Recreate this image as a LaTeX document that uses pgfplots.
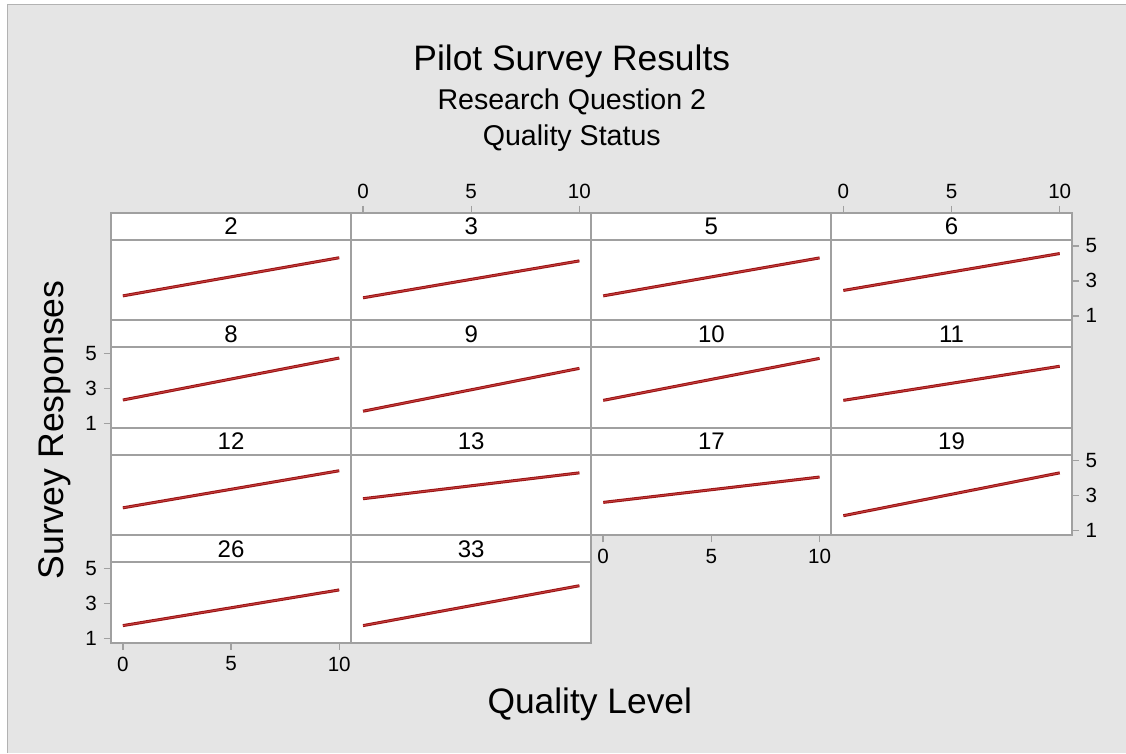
\documentclass[border=0pt]{standalone}
\usepackage{pgfplots}
\pgfplotsset{compat=1.18}
\usepackage{fontspec}
\setmainfont{Liberation Sans}
\definecolor{bggray}{HTML}{E5E5E5}
\definecolor{axgray}{HTML}{A0A0A0}
\definecolor{lred1}{HTML}{9A1414}
\definecolor{lred2}{HTML}{C84040}
\pgfplotsset{
  panel/.style={
    width=120.125pt, height=53.75pt, scale only axis,
    xmin=-0.55, xmax=10.55, ymin=0.74, ymax=6.883,
    anchor=north west, clip=false,
    axis background/.style={fill=white},
    axis line style={draw=axgray, line width=1pt},
    xtick=\empty, ytick=\empty,
    tick align=outside, major tick length=3.5pt,
    tick style={draw=axgray, line width=0.7pt},
    tick label style={font=\fontsize{10.3}{12}\selectfont, text=black},
    /pgf/number format/assume math mode=true,
  },
  topx/.style={xtick={0,5,10}, xtick pos=right, xticklabel pos=right},
  botx/.style={xtick={0,5,10}, xtick pos=left, xticklabel pos=left},
  lefty/.style={ytick={1,3,5}, ytick pos=left, yticklabel pos=left},
  righty/.style={ytick={1,3,5}, ytick pos=right, yticklabel pos=right},
}
\newcommand{\panel}[6]{%
\begin{axis}[panel, at={({55.5pt+120.125pt*#1},{270pt-53.75pt*#2})}, #6]
\addplot[lred1, line width=1.5pt] coordinates {(0,#4) (10,#5)};
\addplot[lred2, line width=0.45pt] coordinates {(0,#4) (10,#5)};
\draw[axgray, line width=1pt] (rel axis cs:0,0.7488) -- (rel axis cs:1,0.7488);
\node[font=\fontsize{12}{14}\selectfont] at (rel axis cs:0.5,0.8744) {#3};
\end{axis}}
\begin{document}
\begin{tikzpicture}
\fill[white] (0,0) rectangle (563pt,376.5pt);
\fill[bggray] (3.5pt,0) rectangle (563pt,374.5pt);
\draw[gray!60, line width=0.4pt] (3.5pt,0) -- (3.5pt,374.5pt) -- (563pt,374.5pt);
\node[font=\fontsize{17.7}{20}\selectfont] at (286pt,346pt) {Pilot Survey Results};
\node[font=\fontsize{14.3}{17}\selectfont] at (286pt,325.5pt) {Research Question 2};
\node[font=\fontsize{14.3}{17}\selectfont] at (286pt,307.5pt) {Quality Status};
\node[font=\fontsize{17.8}{20}\selectfont, rotate=90] at (27.5pt,161.5pt) {Survey Responses};
\node[font=\fontsize{17.7}{20}\selectfont] at (295pt,24pt) {Quality Level};
\panel{0}{0}{2}{2.14}{4.32}{}
\panel{1}{0}{3}{2.03}{4.14}{topx}
\panel{2}{0}{5}{2.14}{4.31}{}
\panel{3}{0}{6}{2.45}{4.56}{topx,righty}
\panel{0}{1}{8}{2.33}{4.73}{lefty}
\panel{1}{1}{9}{1.69}{4.14}{}
\panel{2}{1}{10}{2.31}{4.71}{}
\panel{3}{1}{11}{2.31}{4.26}{}
\panel{0}{2}{12}{2.31}{4.43}{}
\panel{1}{2}{13}{2.83}{4.31}{}
\panel{2}{2}{17}{2.62}{4.07}{botx}
\panel{3}{2}{19}{1.86}{4.31}{righty}
\panel{0}{3}{26}{1.72}{3.76}{lefty,botx}
\panel{1}{3}{33}{1.72}{4.00}{}
\end{tikzpicture}
\end{document}
